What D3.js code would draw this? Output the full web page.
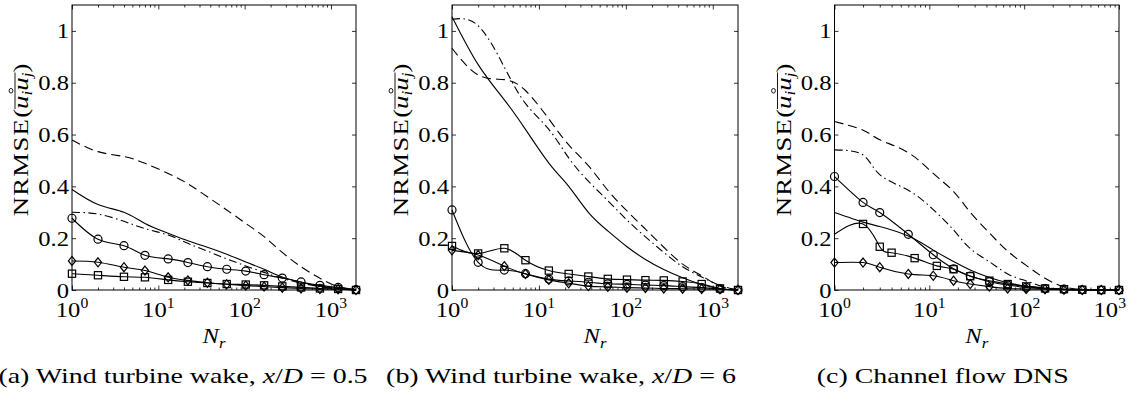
<!DOCTYPE html>
<html><head><meta charset="utf-8">
<script src="https://cdn.jsdelivr.net/npm/d3@7"></script>
<style>
body{margin:0;background:#fff}
svg{display:block}
text{font-family:"Liberation Serif","Times New Roman",serif;fill:#000}
</style>
</head><body>
<svg id="c" width="1130" height="396"></svg>
<script>
// ---------- data ----------
const yTicks = [0, 0.2, 0.4, 0.6, 0.8, 1];
const yTickLabels = ["0", "0.2", "0.4", "0.6", "0.8", "1"];
const xMajorExps = [0, 1, 2, 3];
const captionsPre = ["(a) Wind turbine wake, ", "(b) Wind turbine wake, ", "(c) Channel flow DNS"];
const captionsVal = ["0.5", "6", null];

const N_ab = [1, 2, 4, 7, 13, 22, 37, 62, 103, 168, 273, 450, 745, 1210, 1950];
const N_c = [1, 2, 3, 6, 11, 18, 27, 43, 67, 105, 166, 263, 410, 650, 1000];
const N_c_sq = [1, 2, 3, 4, 7, 12, 18, 27, 43, 67, 105, 166, 263, 410, 650, 1000];

const a_solid   = [0.388, 0.330, 0.300, 0.257, 0.219, 0.190, 0.165, 0.138, 0.108, 0.080, 0.050, 0.030, 0.015, 0.006, 0];
const a_dashed  = [0.579, 0.534, 0.515, 0.489, 0.450, 0.410, 0.360, 0.309, 0.257, 0.206, 0.145, 0.090, 0.045, 0.013, 0];
const a_dashdot = [0.300, 0.293, 0.265, 0.237, 0.212, 0.180, 0.150, 0.120, 0.093, 0.068, 0.045, 0.027, 0.013, 0.005, 0];
const a_circle  = [0.277, 0.196, 0.171, 0.134, 0.120, 0.106, 0.090, 0.080, 0.073, 0.059, 0.046, 0.031, 0.018, 0.010, 0.002];
const a_square  = [0.063, 0.057, 0.051, 0.049, 0.039, 0.032, 0.027, 0.023, 0.021, 0.018, 0.014, 0.010, 0.006, 0.004, 0];
const a_diamond = [0.112, 0.107, 0.088, 0.075, 0.049, 0.037, 0.028, 0.022, 0.017, 0.013, 0.009, 0.006, 0.004, 0.003, 0];

const b_solid   = [1.055, 0.870, 0.734, 0.620, 0.490, 0.400, 0.300, 0.228, 0.167, 0.118, 0.079, 0.047, 0.021, 0.005, 0];
const b_dashed  = [0.933, 0.830, 0.812, 0.770, 0.660, 0.560, 0.480, 0.385, 0.305, 0.235, 0.165, 0.100, 0.055, 0.015, 0];
const b_dashdot = [1.045, 1.020, 0.860, 0.720, 0.620, 0.510, 0.420, 0.345, 0.270, 0.205, 0.145, 0.090, 0.050, 0.018, 0];
const b_circle  = [0.309, 0.107, 0.077, 0.063, 0.042, 0.035, 0.030, 0.024, 0.022, 0.019, 0.017, 0.013, 0.009, 0.004, 0];
const b_square  = [0.170, 0.141, 0.161, 0.115, 0.075, 0.062, 0.052, 0.043, 0.040, 0.038, 0.037, 0.033, 0.023, 0.006, 0];
const b_diamond = [0.153, 0.135, 0.092, 0.062, 0.039, 0.026, 0.015, 0.012, 0.009, 0.008, 0.006, 0.005, 0.004, 0.003, 0];

const c_solid   = [0.299, 0.262, 0.245, 0.208, 0.154, 0.110, 0.077, 0.048, 0.028, 0.015, 0.008, 0.003, 0.001, 0, 0];
const c_dashed  = [0.650, 0.617, 0.580, 0.530, 0.450, 0.380, 0.300, 0.220, 0.150, 0.095, 0.045, 0.012, 0.002, 0, 0];
const c_dashdot = [0.541, 0.521, 0.445, 0.385, 0.310, 0.232, 0.160, 0.109, 0.062, 0.035, 0.011, 0.002, 0, 0, 0];
const c_circle  = [0.438, 0.338, 0.299, 0.215, 0.136, 0.082, 0.054, 0.032, 0.019, 0.010, 0.005, 0.003, 0.001, 0, 0];
const c_square  = [0.215, 0.255, 0.167, 0.144, 0.123, 0.093, 0.080, 0.053, 0.036, 0.023, 0.014, 0.006, 0.003, 0.001, 0, 0];
const c_diamond = [0.106, 0.106, 0.088, 0.062, 0.055, 0.036, 0.023, 0.013, 0.006, 0.004, 0.003, 0.001, 0, 0, 0];

// ---------- layout / style ----------
const TOP = 5, BOTTOM = 290;
const SX = 1.12;
const TICK_FS = 22, LABEL_FS = 22, CAP_FS = 22, CAP_SX = 1.27, YL_SX = 1.22;
const DASH = "9,5", DASHDOT = "8,3.5,1.5,3.5";

const panels = [
  {left: 72, width: 284, N: N_ab, Nsq: N_ab, capShift: -31,
   lines: [a_solid, a_dashed, a_dashdot], circle: a_circle, square: a_square, diamond: a_diamond, sqFrom: 0},
  {left: 452, width: 286, N: N_ab, Nsq: N_ab, capShift: -34,
   lines: [b_solid, b_dashed, b_dashdot], circle: b_circle, square: b_square, diamond: b_diamond, sqFrom: 0},
  {left: 834.5, width: 284.5, N: N_c, Nsq: N_c_sq, capShift: -34,
   lines: [c_solid, c_dashed, c_dashdot], circle: c_circle, square: c_square, diamond: c_diamond, sqFrom: 1}
];
const lineDash = [null, DASH, DASHDOT];

const svg = d3.select("#c");
const y = d3.scaleLinear().domain([0, 1.1]).range([BOTTOM, TOP]);

function stretchedText(parent, x, yy, anchor, fs, sx) {
  return parent.append("text")
    .attr("transform", `translate(${x},${yy}) scale(${sx || SX},1)`)
    .attr("text-anchor", anchor).attr("font-size", fs);
}

panels.forEach((p, pi) => {
  const xMax = p.N[p.N.length - 1];
  const x = d3.scaleLog().domain([1, xMax]).range([p.left, p.left + p.width]);
  const g = svg.append("g");

  const majors = xMajorExps.map(e => Math.pow(10, e)).filter(v => v <= xMax * 1.0001);
  const minors = [];
  xMajorExps.forEach(e => { for (let k = 2; k <= 9; k++) { const v = k * Math.pow(10, e); if (v < xMax) minors.push(v); } });

  const clean = s => { s.select(".domain").remove(); s.selectAll("line").attr("stroke", "#000").attr("stroke-width", 0.8); };
  g.append("g").attr("transform", `translate(0,${BOTTOM})`)
    .call(d3.axisBottom(x).tickValues(majors).tickSizeInner(-4.5).tickSizeOuter(0).tickFormat("")).call(clean);
  g.append("g").attr("transform", `translate(0,${BOTTOM})`)
    .call(d3.axisBottom(x).tickValues(minors).tickSizeInner(-2.5).tickSizeOuter(0).tickFormat("")).call(clean);
  g.append("g").attr("transform", `translate(0,${TOP})`)
    .call(d3.axisTop(x).tickValues(majors).tickSizeInner(-4.5).tickSizeOuter(0).tickFormat("")).call(clean);
  g.append("g").attr("transform", `translate(0,${TOP})`)
    .call(d3.axisTop(x).tickValues(minors).tickSizeInner(-2.5).tickSizeOuter(0).tickFormat("")).call(clean);
  g.append("g").attr("transform", `translate(${p.left},0)`)
    .call(d3.axisLeft(y).tickValues(yTicks).tickSizeInner(-4).tickSizeOuter(0).tickFormat("")).call(clean);
  g.append("g").attr("transform", `translate(${p.left + p.width},0)`)
    .call(d3.axisRight(y).tickValues(yTicks).tickSizeInner(-4).tickSizeOuter(0).tickFormat("")).call(clean);

  // frame
  g.append("rect").attr("x", p.left).attr("y", TOP).attr("width", p.width).attr("height", BOTTOM - TOP)
    .attr("fill", "none").attr("stroke", "#000").attr("stroke-width", 1);

  // y tick labels
  yTicks.forEach((v, i) => {
    stretchedText(g, p.left - 3, y(v) + 7.5, "end", TICK_FS).text(yTickLabels[i]);
  });
  // x tick labels 10^k
  majors.forEach((v, i) => {
    const t = stretchedText(g, x(v), 317, "middle", TICK_FS);
    t.append("tspan").text("10");
    t.append("tspan").text(String(xMajorExps[i])).attr("font-size", 14).attr("dy", -9);
    const w = t.node().getBBox().width * SX;
    if (x(v) + w / 2 > 1126) t.attr("transform", `translate(${1126 - w / 2},317) scale(${SX},1)`);
  });
  // x label N_r
  const cx = p.left + p.width / 2;
  const xl = stretchedText(g, cx, 343, "middle", LABEL_FS);
  xl.append("tspan").text("N").attr("font-style", "italic");
  xl.append("tspan").text("r").attr("font-style", "italic").attr("font-size", 15).attr("dy", 5);

  // y label
  const yg = g.append("g").attr("transform", `translate(${p.left - 44},140) rotate(-90) scale(${YL_SX},1)`);
  const yt = yg.append("text").attr("text-anchor", "middle").attr("font-size", LABEL_FS);
  yt.append("tspan").text("NRMSE").attr("letter-spacing", 1);
  yt.append("tspan").text("(");
  yt.append("tspan").text("u").attr("font-style", "italic");
  yt.append("tspan").text("i").attr("font-style", "italic").attr("font-size", 14).attr("dy", 4);
  yt.append("tspan").text("u").attr("font-style", "italic").attr("font-size", LABEL_FS).attr("dy", -4);
  yt.append("tspan").text("j").attr("font-style", "italic").attr("font-size", 14).attr("dy", 4);
  yt.append("tspan").text(")").attr("font-size", LABEL_FS).attr("dy", -4);
  const node = yt.node();
  const s0 = node.getStartPositionOfChar(6).x, s1 = node.getEndPositionOfChar(9).x;
  yg.append("line").attr("x1", s0).attr("x2", s1).attr("y1", -13).attr("y2", -13)
    .attr("stroke", "#000").attr("stroke-width", 0.9);
  yg.append("circle").attr("cx", (s0 + s1) / 2).attr("cy", -17).attr("r", 1.9)
    .attr("fill", "none").attr("stroke", "#000").attr("stroke-width", 0.8);

  // caption
  const cap = stretchedText(g, cx + p.capShift, 383, "middle", CAP_FS, CAP_SX);
  cap.append("tspan").text(captionsPre[pi]);
  if (captionsVal[pi] !== null) {
    cap.append("tspan").text("x").attr("font-style", "italic");
    cap.append("tspan").text("/");
    cap.append("tspan").text("D").attr("font-style", "italic");
    cap.append("tspan").text(" = " + captionsVal[pi]);
  }

  // data lines
  const line = (Ns) => d3.line().x((d, i) => x(Ns[i])).y(d => y(d)).curve(d3.curveNatural);
  p.lines.forEach((vals, li) => {
    const path = g.append("path").attr("d", line(p.N)(vals))
      .attr("fill", "none").attr("stroke", "#000").attr("stroke-width", 1.1);
    if (lineDash[li]) path.attr("stroke-dasharray", lineDash[li]);
  });
  [[p.circle, p.N], [p.square, p.Nsq], [p.diamond, p.N]].forEach(([vals, Ns]) => {
    g.append("path").attr("d", line(Ns)(vals))
      .attr("fill", "none").attr("stroke", "#000").attr("stroke-width", 1.1);
  });
  // markers
  const mk = g.append("g").attr("fill", "none").attr("stroke", "#000").attr("stroke-width", 1.2);
  p.circle.forEach((v, i) => mk.append("circle").attr("cx", x(p.N[i])).attr("cy", y(v)).attr("r", 4));
  p.square.forEach((v, i) => {
    if (i < p.sqFrom) return;
    mk.append("rect").attr("x", x(p.Nsq[i]) - 3.6).attr("y", y(v) - 3.6).attr("width", 7.2).attr("height", 7.2);
  });
  p.diamond.forEach((v, i) => {
    const cx0 = x(p.N[i]), cy0 = y(v);
    mk.append("path").attr("d", `M${cx0},${cy0 - 4.5}L${cx0 + 3.6},${cy0}L${cx0},${cy0 + 4.5}L${cx0 - 3.6},${cy0}Z`);
  });
});
</script>
</body></html>
